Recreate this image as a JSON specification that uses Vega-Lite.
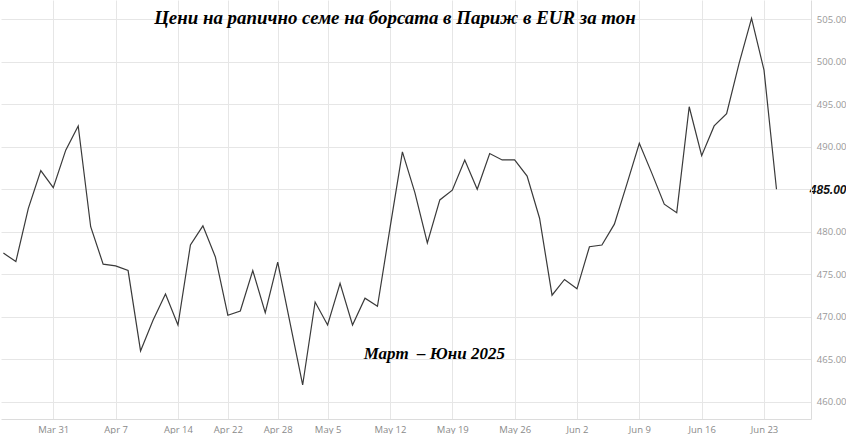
{
  "$schema": "https://vega.github.io/schema/vega-lite/v6.json",
  "width": 810,
  "height": 419,
  "padding": 0,
  "autosize": {"type": "pad"},
  "background": "white",
  "config": {"view": {"stroke": null}},
  "data": {
    "values": [
      {"date": "2025-03-25", "price": 477.5},
      {"date": "2025-03-26", "price": 476.5},
      {"date": "2025-03-27", "price": 482.75},
      {"date": "2025-03-28", "price": 487.2},
      {"date": "2025-03-31", "price": 485.2},
      {"date": "2025-04-01", "price": 489.6},
      {"date": "2025-04-02", "price": 492.45},
      {"date": "2025-04-03", "price": 480.6},
      {"date": "2025-04-04", "price": 476.2},
      {"date": "2025-04-07", "price": 476.0},
      {"date": "2025-04-08", "price": 475.45},
      {"date": "2025-04-09", "price": 466.0},
      {"date": "2025-04-10", "price": 469.6},
      {"date": "2025-04-11", "price": 472.7},
      {"date": "2025-04-14", "price": 469.05},
      {"date": "2025-04-15", "price": 478.45},
      {"date": "2025-04-16", "price": 480.7},
      {"date": "2025-04-17", "price": 477.05},
      {"date": "2025-04-22", "price": 470.2},
      {"date": "2025-04-23", "price": 470.7},
      {"date": "2025-04-24", "price": 475.45},
      {"date": "2025-04-25", "price": 470.5},
      {"date": "2025-04-28", "price": 476.45},
      {"date": "2025-04-29", "price": 469.2},
      {"date": "2025-04-30", "price": 462.0},
      {"date": "2025-05-02", "price": 471.75},
      {"date": "2025-05-05", "price": 469.05},
      {"date": "2025-05-06", "price": 473.95},
      {"date": "2025-05-07", "price": 469.05},
      {"date": "2025-05-08", "price": 472.2},
      {"date": "2025-05-09", "price": 471.25},
      {"date": "2025-05-12", "price": 480.4},
      {"date": "2025-05-13", "price": 489.4},
      {"date": "2025-05-14", "price": 484.6},
      {"date": "2025-05-15", "price": 478.7},
      {"date": "2025-05-16", "price": 483.75},
      {"date": "2025-05-19", "price": 484.9},
      {"date": "2025-05-20", "price": 488.45},
      {"date": "2025-05-21", "price": 485.0},
      {"date": "2025-05-22", "price": 489.2},
      {"date": "2025-05-23", "price": 488.45},
      {"date": "2025-05-26", "price": 488.45},
      {"date": "2025-05-27", "price": 486.55},
      {"date": "2025-05-28", "price": 481.6},
      {"date": "2025-05-29", "price": 472.55},
      {"date": "2025-05-30", "price": 474.4},
      {"date": "2025-06-02", "price": 473.3},
      {"date": "2025-06-03", "price": 478.25},
      {"date": "2025-06-04", "price": 478.45},
      {"date": "2025-06-05", "price": 480.9},
      {"date": "2025-06-06", "price": 485.6},
      {"date": "2025-06-09", "price": 490.4},
      {"date": "2025-06-10", "price": 486.9},
      {"date": "2025-06-11", "price": 483.25},
      {"date": "2025-06-12", "price": 482.25},
      {"date": "2025-06-13", "price": 494.7},
      {"date": "2025-06-16", "price": 488.95},
      {"date": "2025-06-17", "price": 492.45},
      {"date": "2025-06-18", "price": 493.9},
      {"date": "2025-06-19", "price": 499.8},
      {"date": "2025-06-20", "price": 505.1},
      {"date": "2025-06-23", "price": 499.0},
      {"date": "2025-06-24", "price": 485.0}
    ]
  },
  "layer": [
    {
      "mark": {"type": "line", "color": "#3a3a3a", "strokeWidth": 1.2},
      "encoding": {
        "x": {
          "field": "date",
          "type": "ordinal",
          "scale": {"type": "point", "padding": 0.48, "align": 0.2, "domain": {"unionWith": ["2025-06-25", "2025-06-26"]}},
          "axis": {
            "title": null,
            "values": ["2025-03-31", "2025-04-07", "2025-04-14", "2025-04-22", "2025-04-28", "2025-05-05", "2025-05-12", "2025-05-19", "2025-05-26", "2025-06-02", "2025-06-09", "2025-06-16", "2025-06-23"],
            "labelExpr": "utcFormat(toDate(datum.value), '%b %-d')",
            "labelAngle": 0,
            "labelFont": "Open Sans",
            "labelFontSize": 9.5,
            "labelColor": "#8a8a8a",
            "labelPadding": 5,
            "ticks": false,
            "tickSize": 0,
            "domainColor": "#dcdcdc",
            "grid": true,
            "gridColor": "#e6e6e6",
            "gridWidth": 1
          }
        },
        "y": {
          "field": "price",
          "type": "quantitative",
          "scale": {"domain": [458, 507.25], "nice": false, "zero": false},
          "axis": {
            "title": null,
            "orient": "right",
            "values": [460, 465, 470, 475, 480, 485, 490, 495, 500, 505],
            "format": ".2f",
            "ticks": false,
            "tickSize": 0,
            "labelAlign": "right",
            "labelPadding": 35,
            "labelFont": {"condition": {"test": "datum.value == 485", "value": "Liberation Sans"}, "value": "Open Sans"},
            "labelFontSize": {"condition": {"test": "datum.value == 485", "value": 12}, "value": 9.5},
            "labelFontWeight": {"condition": {"test": "datum.value == 485", "value": "bold"}, "value": "normal"},
            "labelFontStyle": {"condition": {"test": "datum.value == 485", "value": "italic"}, "value": "normal"},
            "labelColor": {"condition": {"test": "datum.value == 485", "value": "#111111"}, "value": "#999999"},
            "domainColor": "#dcdcdc",
            "grid": true,
            "gridColor": "#e6e6e6",
            "gridWidth": 1
          }
        }
      }
    },
    {
      "data": {"values": [{}]},
      "mark": {
        "type": "text",
        "text": "Цени на рапично семе на борсата в Париж в EUR за тон",
        "font": "Liberation Serif",
        "fontSize": 18.9,
        "fontStyle": "italic",
        "fontWeight": "bold",
        "color": "#000000",
        "align": "center",
        "baseline": "alphabetic",
        "dx": 5
      },
      "encoding": {
        "x": {"datum": "2025-05-12", "type": "ordinal"},
        "y": {"datum": 504.45, "type": "quantitative"}
      }
    },
    {
      "data": {"values": [{}]},
      "mark": {
        "type": "text",
        "text": "Март\u00a0 – Юни 2025",
        "font": "Liberation Serif",
        "fontSize": 17,
        "fontStyle": "italic",
        "fontWeight": "bold",
        "color": "#000000",
        "align": "center",
        "baseline": "alphabetic",
        "dx": 7
      },
      "encoding": {
        "x": {"datum": "2025-05-15", "type": "ordinal"},
        "y": {"datum": 465, "type": "quantitative"}
      }
    }
  ]
}
